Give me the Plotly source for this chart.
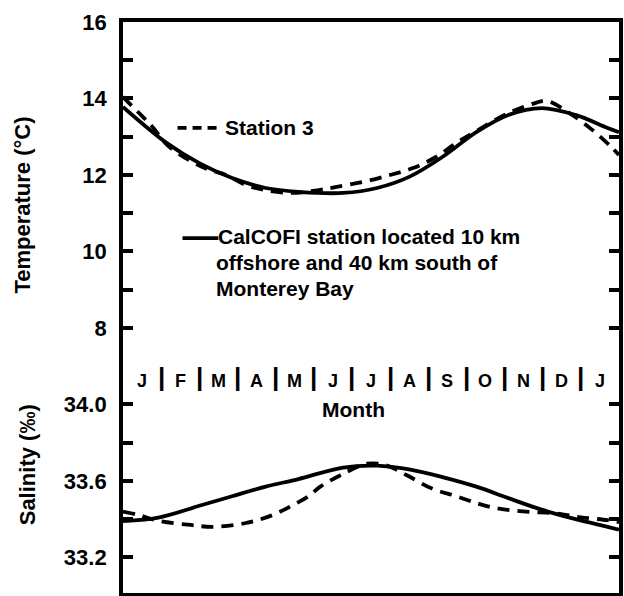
import plotly.graph_objects as go

# ---------------- data ----------------
# months since 1 January (axis spans Jan .. Jan of next year)
temp_cal_month = [0.0, 1.14, 2.0, 2.86, 3.74, 4.6, 5.77, 6.66, 7.5, 8.37, 9.26, 10.1, 10.97, 11.86, 12.7, 13.0]
temp_cal = [13.78, 12.84, 12.31, 11.92, 11.66, 11.56, 11.53, 11.66, 11.95, 12.47, 13.12, 13.57, 13.75, 13.57, 13.23, 13.12]

temp_st3_month = [0.0, 0.52, 0.78, 1.22, 2.08, 2.7, 3.22, 3.74, 4.42, 5.1, 5.6, 6.3, 7.0, 7.6, 8.2, 8.74, 9.4, 10.1, 10.8, 11.1, 11.7, 12.3, 12.8, 13.0]
temp_st3 = [14.04, 13.52, 13.25, 12.73, 12.21, 12.0, 11.74, 11.6, 11.53, 11.6, 11.69, 11.82, 12.0, 12.18, 12.47, 12.84, 13.23, 13.62, 13.88, 13.94, 13.62, 13.18, 12.73, 12.52]

sal_cal_month = [0.0, 0.96, 2.0, 2.86, 3.74, 4.6, 5.77, 6.66, 7.5, 8.37, 9.26, 10.1, 10.97, 11.86, 12.7, 13.0]
sal_cal = [33.39, 33.41, 33.47, 33.52, 33.57, 33.61, 33.67, 33.68, 33.66, 33.62, 33.57, 33.51, 33.45, 33.40, 33.36, 33.345]

sal_st3_month = [0.0, 0.44, 0.96, 1.77, 2.34, 3.22, 3.9, 4.42, 4.86, 5.17, 5.7, 6.4, 6.92, 7.44, 8.1, 8.74, 9.33, 9.85, 10.56, 11.33, 12.0, 12.7, 13.0]
sal_st3 = [33.44, 33.42, 33.39, 33.37, 33.36, 33.38, 33.42, 33.47, 33.52, 33.57, 33.63, 33.69, 33.68, 33.63, 33.56, 33.52, 33.48, 33.455, 33.44, 33.43, 33.41, 33.395, 33.385]

month_letters = ["J", "F", "M", "A", "M", "J", "J", "A", "S", "O", "N", "D", "J"]
temp_ticks = [8, 9, 10, 11, 12, 13, 14, 15, 16]
temp_ticktext = ["8", "", "10", "", "12", "", "14", "", "16"]
sal_ticks = [33.2, 33.4, 33.6, 33.8, 34.0]
sal_ticktext = ["33.2", "", "33.6", "", "34.0"]

legend_station = "Station 3"
legend_cal = ["CalCOFI station located 10 km", "offshore and 40 km south of", "Monterey Bay"]

# ---------------- figure ----------------
FONT = "Liberation Sans"
BLACK = "#000000"
T_MIN, T_MAX = 1.07, 16.0001
# salinity axis shares the pixel scale: 0.2 per 1 degC, 34.0 level with 6 degC
S_MIN = 34.0 + (T_MIN - 6) * 0.2
S_MAX = 34.0 + (T_MAX - 6) * 0.2

fig = go.Figure()
fig.add_trace(go.Scatter(x=temp_cal_month, y=temp_cal, mode="lines", line=dict(color=BLACK, width=3.8, shape="spline"), yaxis="y"))
fig.add_trace(go.Scatter(x=temp_st3_month, y=temp_st3, mode="lines", line=dict(color=BLACK, width=3.8, shape="spline", dash="12px,8px"), yaxis="y"))
fig.add_trace(go.Scatter(x=sal_cal_month, y=sal_cal, mode="lines", line=dict(color=BLACK, width=3.8, shape="spline"), yaxis="y2"))
fig.add_trace(go.Scatter(x=sal_st3_month, y=sal_st3, mode="lines", line=dict(color=BLACK, width=3.8, shape="spline", dash="12px,8px"), yaxis="y2"))

annotations = []
# month letters and separators
for i, m in enumerate(month_letters):
    annotations.append(dict(x=i + 0.5, y=6.62, xref="x", yref="y", text=m, showarrow=False,
                            font=dict(family=FONT, size=18, color=BLACK, weight="bold")))
for i in range(1, 13):
    annotations.append(dict(x=i, y=6.72, xref="x", yref="y", text="|", showarrow=False,
                            font=dict(family=FONT, size=26, color=BLACK, weight="bold")))
annotations.append(dict(x=6.03, y=5.86, xref="x", yref="y", text="Month", showarrow=False,
                        font=dict(family=FONT, size=21, color=BLACK, weight="bold")))
# legend texts
annotations.append(dict(x=2.62, y=13.23, xref="x", yref="y", text=legend_station, showarrow=False, xanchor="left",
                        font=dict(family=FONT, size=21, color=BLACK, weight="bold")))
for k, line in enumerate(legend_cal):
    annotations.append(dict(x=2.45 if k == 0 else 2.38, y=10.38 - k * 0.67, xref="x", yref="y", text=line,
                            showarrow=False, xanchor="left",
                            font=dict(family=FONT, size=21, color=BLACK, weight="bold")))
# axis titles
annotations.append(dict(x=-0.202, y=0.68, xref="paper", yref="paper", text="Temperature (°C)", textangle=-90,
                        xanchor="center", yanchor="middle",
                        showarrow=False, font=dict(family=FONT, size=22, color=BLACK, weight="bold")))
annotations.append(dict(x=-0.192, y=0.225, xref="paper", yref="paper", text="Salinity (‰)", textangle=-90,
                        xanchor="center", yanchor="middle",
                        showarrow=False, font=dict(family=FONT, size=22, color=BLACK, weight="bold")))

shapes = [
    dict(type="line", xref="x", yref="y", x0=1.43, x1=2.47, y0=13.23, y1=13.23,
         line=dict(color=BLACK, width=3.8, dash="9px,6px")),
    dict(type="line", xref="x", yref="y", x0=1.56, x1=2.5, y0=10.35, y1=10.35,
         line=dict(color=BLACK, width=3.8)),
]

axis_common = dict(showline=True, linecolor=BLACK, linewidth=3.8, showgrid=False, zeroline=False,
                   ticks="inside", ticklen=10, tickwidth=3.8, tickcolor=BLACK, mirror="ticks",
                   tickfont=dict(family=FONT, size=22, color=BLACK, weight="bold"), ticklabelstandoff=8)

fig.update_layout(
    width=624, height=596,
    margin=dict(l=123, r=1, t=22, b=3),
    paper_bgcolor="white", plot_bgcolor="white",
    showlegend=False,
    xaxis=dict(range=[0, 13], showline=True, linecolor=BLACK, linewidth=3.8, mirror=True,
               showgrid=False, zeroline=False, ticks="", showticklabels=False),
    yaxis=dict(range=[T_MIN, T_MAX], tickmode="array", tickvals=temp_ticks, ticktext=temp_ticktext, **axis_common),
    yaxis2=dict(range=[S_MIN, S_MAX], overlaying="y", side="left", anchor="x", tickmode="array",
                tickvals=sal_ticks, ticktext=sal_ticktext, **axis_common),
    annotations=annotations,
    shapes=shapes,
)

fig.write_html("out.html")
